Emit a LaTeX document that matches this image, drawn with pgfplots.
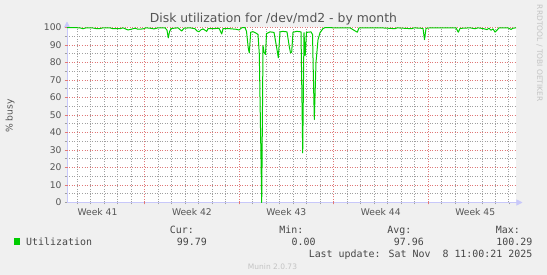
\documentclass[border=0pt]{standalone}
\usepackage{pgfplots}
\pgfplotsset{compat=1.18}
\usepackage{pgfplotstable}
\usepackage{fontspec}
\setmainfont{DejaVu Sans}
\newfontfamily\monofont{DejaVu Sans Mono}
\usetikzlibrary{arrows.meta}
\definecolor{bgc}{RGB}{240,240,240}
\definecolor{txt}{RGB}{85,85,85}
\definecolor{txtm}{RGB}{70,70,70}
\definecolor{grn}{RGB}{0,204,0}
\definecolor{gridc}{RGB}{160,160,160}
\definecolor{mgrid}{RGB}{225,120,120}
\definecolor{axc}{RGB}{200,200,250}
\definecolor{wm}{RGB}{195,195,195}

% px = horizontal pixel position in the reference, val = % busy
\pgfplotstableread{
px val
67 99.9
75 99.9
80 99.8
83 99.3
86 99.8
92 99.8
97 99.3
100 99.4
103 99.8
110 99.8
113 99.3
120 99.3
123 99.8
128 98.6
131 99.0
135 99.6
138 99.0
143 99.2
146 99.8
150 99.6
154 99.2
158 99.8
165 99.8
167 98.5
168.3 94.1
169.5 97.5
171 99.4
178 99.8
181.7 98.0
184 99.6
190 99.8
195 99.3
197 98.0
199 97.6
201 98.7
203 99.2
206.7 97.8
208 99.3
215 99.4
219 99.6
221.7 96.3
223 99.3
230 99.3
236 99.0
239 98.6
242 99.9
245 100
246.5 97.8
248.3 88
249.3 85.5
250.7 97.3
253 97.6
256 96.8
258 96
259.3 85
261.7 0
263 89.7
264 86
265.5 84.6
266.5 96.5
270 97.5
274 97.2
276.7 88.4
278.3 82.7
280 97.5
283 97.8
287 97.5
289.3 89
290.5 85.5
291.7 86
293 97.3
297 97.8
301 97.5
302.7 28.4
304 97
305.2 84
306.5 97.2
311 97.5
312.5 96
314.3 47.4
316 80
318 93
320 97
323 99.4
325 99.9
340 99.8
350 99.8
357.3 97.3
359 99.8
375 99.8
385 99.7
395 99.3
397 99.8
411.7 99.3
414 99.8
423 99.5
424.5 93.1
426 99.5
430 99.8
445 99.8
456 99.8
458.3 97.3
460 99.5
470 99.8
475 99.3
478 99.8
483 99.4
487 98.8
489 99.6
491 98.4
493 99.2
495 97.4
497 98.5
499 99.8
508 99.8
511 98.9
513 99.6
516 99.8
}\disk

\begin{document}
\begin{tikzpicture}[x=1pt,y=1pt]
\path[use as bounding box, fill=bgc] (0,0) rectangle (547,275);
\begin{axis}[
  at={(67pt,72.5pt)}, anchor=south west,
  scale only axis, width=449.5pt, height=175pt,
  xmin=0, xmax=33.32, ymin=0, ymax=100,
  clip=false,
  axis background/.style={fill=white},
  axis x line=bottom, axis y line=left,
  x axis line style={draw=axc, line width=0.8pt, -{Triangle[length=6pt,width=6pt,fill=axc]}, shorten >=-6pt},
  y axis line style={draw=axc, line width=0.8pt, -{Triangle[length=6pt,width=6pt,fill=axc]}, shorten >=-6pt},
  % daily grid (grey); week labels sit half a day left of a daily tick
  xtick={0.76,1.76,...,32.76},
  xticklabels={,,Week 41,,,,,,,Week 42,,,,,,,Week 43,,,,,,,Week 44,,,,,,,Week 45,,},
  xticklabel style={xshift=-6.745pt},
  ytick={0,5,...,100},
  yticklabels={0,,10,,20,,30,,40,,50,,60,,70,,80,,90,,100},
  grid=major,
  major grid style={draw=gridc, dash pattern=on 1pt off 1.5pt, line width=0.9pt},
  % weekly and every-10 grid (red)
  extra x ticks={5.76,12.76,19.76,26.76}, extra x tick labels={},
  extra y ticks={10,20,...,100}, extra y tick labels={},
  extra tick style={major grid style={draw=mgrid, dash pattern=on 1pt off 1.5pt, line width=0.9pt}, major tick style={draw=mgrid, line width=0.8pt}},
  tick align=outside, major tick length=2pt,
  major tick style={draw=gridc, line width=0.8pt},
  tick label style={font=\fontsize{9.2}{11}\selectfont, text=txt},
  /pgf/number format/assume math mode=true,
]
\addplot[grn, line width=1pt, line join=round] table[x expr=(\thisrow{px}-67)/13.49, y=val] {\disk};
\end{axis}
\node[font=\fontsize{12.4}{14}\selectfont, text=txt] at (273.4,255.7) {Disk utilization for /dev/md2 - by month};
\node[rotate=90, font=\fontsize{9.2}{11}\selectfont, text=txt] at (10,159) {\% busy};
\node[rotate=-90, font=\fontsize{7.5}{9}\selectfont, text=wm] at (539.5,221.7) {RRDTOOL / TOBI OETIKER};
\fill[grn] (14,30.4) rectangle (20,36.6);
\begin{scope}[every node/.style={inner sep=0pt, font={\monofont\fontsize{9.95}{12}\selectfont}, text=txtm}]
\node[anchor=base west] at (26,29.85) {Utilization};
\node[anchor=base east] at (194,41.9) {Cur:};
\node[anchor=base east] at (303.5,41.9) {Min:};
\node[anchor=base east] at (411.6,41.9) {Avg:};
\node[anchor=base east] at (520,41.9) {Max:};
\node[anchor=base east] at (207,29.7) {99.79};
\node[anchor=base east] at (315.7,29.7) {0.00};
\node[anchor=base east] at (424,29.7) {97.96};
\node[anchor=base east] at (532.6,29.7) {100.29};
\node[anchor=base east] at (532.6,17.6) {Last update: Sat Nov~~8 11:00:21 2025};
\end{scope}
\node[anchor=base, inner sep=0pt, font=\fontsize{7.5}{9}\selectfont, text=wm] at (272.5,5.2) {Munin 2.0.73};
\end{tikzpicture}
\end{document}
